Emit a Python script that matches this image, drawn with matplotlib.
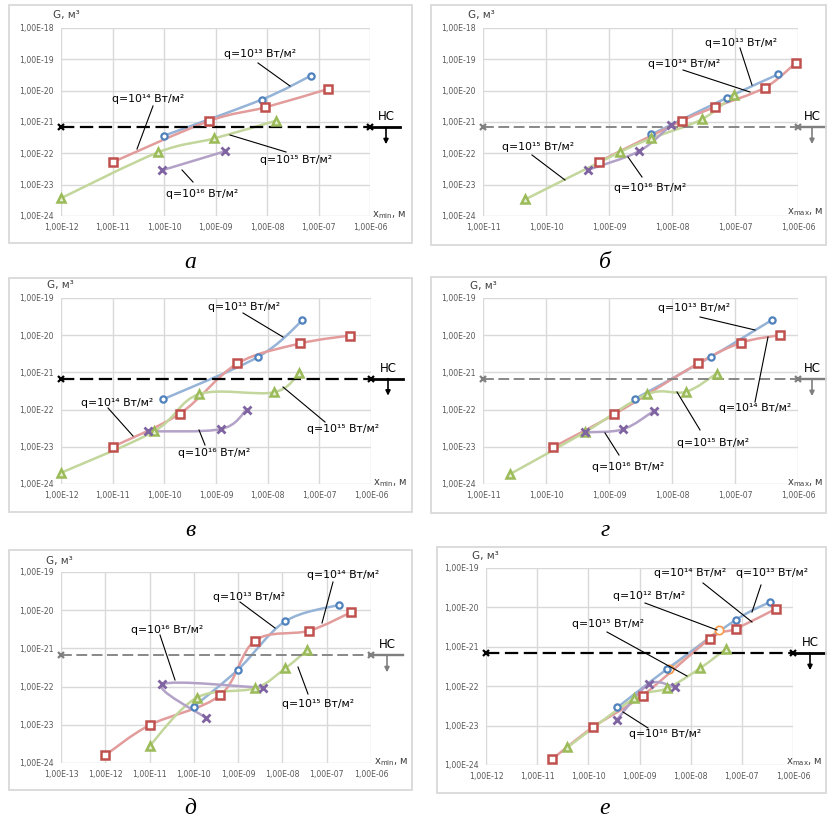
import numpy as np
import matplotlib
matplotlib.use("Agg")
import matplotlib.pyplot as plt
from matplotlib.path import Path
from matplotlib.patches import PathPatch, Rectangle
from matplotlib.lines import Line2D
from matplotlib import transforms
from matplotlib.ticker import FixedLocator, FuncFormatter

W, H = 827, 823

# ---- panel а (x_min) ----
a_x13 = [9.8e-11, 7.9e-9, 7.1e-8]
a_g13 = [3.6e-22, 5.2e-21, 3.0e-20]
a_x14 = [1.0e-11, 7.4e-10, 9.3e-9, 1.5e-7]
a_g14 = [5.2e-23, 1.07e-21, 2.95e-21, 1.12e-20]
a_x15 = [1.0e-12, 7.6e-11, 9.5e-10, 1.5e-8]
a_g15 = [3.7e-24, 1.07e-22, 3.0e-22, 1.1e-21]
a_x16 = [9.3e-11, 1.5e-9]
a_g16 = [2.9e-23, 1.15e-22]
a_hc = 6.8e-22

# ---- panel б (x_max) ----
b_x13 = [4.7e-9, 7.4e-8, 4.8e-7]
b_g13 = [4.0e-22, 5.9e-21, 3.3e-20]
b_x14 = [6.9e-10, 1.45e-8, 4.8e-8, 3.0e-7, 9.3e-7]
b_g14 = [5.4e-23, 1.1e-21, 3.0e-21, 1.26e-20, 7.8e-20]
b_x15 = [4.7e-11, 1.5e-9, 4.7e-9, 3.0e-8, 9.5e-8]
b_g15 = [3.4e-24, 1.1e-22, 3.0e-22, 1.23e-21, 7.4e-21]
b_x16 = [4.7e-10, 3.0e-9, 9.5e-9]
b_g16 = [3.0e-23, 1.17e-22, 7.8e-22]
b_hc = 6.9e-22

# ---- panel в (x_min) ----
v_x13 = [9.5e-11, 6.5e-9, 4.7e-8]
v_g13 = [1.9e-22, 2.6e-21, 2.5e-20]
v_x14 = [1.0e-11, 2.0e-10, 2.6e-9, 4.3e-8, 3.9e-7]
v_g14 = [1.0e-23, 7.8e-23, 1.74e-21, 6.0e-21, 9.8e-21]
v_x15 = [1.0e-12, 6.3e-11, 4.7e-10, 1.3e-8, 4.1e-8]
v_g15 = [2.0e-24, 2.6e-23, 2.6e-22, 2.9e-22, 9.5e-22]
v_x16 = [4.9e-11, 1.26e-9, 3.9e-9]
v_g16 = [2.6e-23, 3.0e-23, 1.0e-22]
v_hc = 6.8e-22

# ---- panel г (x_max) ----
g_x13 = [2.6e-9, 4.1e-8, 3.9e-7]
g_g13 = [1.95e-22, 2.6e-21, 2.6e-20]
g_x14 = [1.3e-10, 1.2e-9, 2.6e-8, 1.26e-7, 5.1e-7]
g_g14 = [9.8e-24, 7.4e-23, 1.74e-21, 6.3e-21, 1.0e-20]
g_x15 = [2.7e-11, 4.1e-10, 4.0e-9, 1.66e-8, 5.1e-8]
g_g15 = [1.86e-24, 2.45e-23, 2.6e-22, 3.0e-22, 9.3e-22]
g_x16 = [4.1e-10, 1.66e-9, 5.2e-9]
g_g16 = [2.45e-23, 2.95e-23, 9.3e-23]
g_hc = 6.6e-22

# ---- panel д (x_min) ----
d_x13 = [1.0e-10, 1.0e-9, 1.15e-8, 1.9e-7]
d_g13 = [3.0e-23, 2.8e-22, 5.1e-21, 1.38e-20]
d_x14 = [1.0e-12, 1.0e-11, 3.9e-10, 2.4e-9, 4.0e-8, 3.6e-7]
d_g14 = [1.6e-24, 9.8e-24, 5.9e-23, 1.6e-21, 2.9e-21, 8.9e-21]
d_x15 = [1.0e-11, 1.15e-10, 2.4e-9, 1.15e-8, 3.6e-8]
d_g15 = [2.8e-24, 5.1e-23, 9.1e-23, 3.0e-22, 8.9e-22]
d_x16 = [1.9e-10, 1.95e-11, 3.7e-9]
d_g16 = [1.5e-23, 1.15e-22, 9.3e-23]
d_hc = 6.6e-22

# ---- panel е (x_max) ----
e_x13 = [3.7e-10, 3.5e-9, 7.8e-8, 3.6e-7]
e_g13 = [2.9e-23, 2.75e-22, 4.9e-21, 1.38e-20]
e_x14 = [1.95e-11, 1.23e-10, 1.15e-9, 2.4e-8, 7.8e-8, 4.7e-7]
e_g14 = [1.4e-24, 9.1e-24, 5.8e-23, 1.6e-21, 2.9e-21, 9.3e-21]
e_x15 = [3.9e-11, 7.9e-10, 3.5e-9, 1.55e-8, 4.8e-8]
e_g15 = [2.8e-24, 4.9e-23, 8.9e-23, 2.9e-22, 8.7e-22]
e_x16 = [3.6e-10, 1.55e-9, 4.9e-9]
e_g16 = [1.4e-23, 1.15e-22, 9.3e-23]
e_x12 = [3.8e-9, 3.6e-8]
e_g12 = [2.75e-22, 2.7e-21]
e_hc = 6.9e-22

Q13 = "q=10¹³ Вт/м²"
Q14 = "q=10¹⁴ Вт/м²"
Q15 = "q=10¹⁵ Вт/м²"
Q16 = "q=10¹⁶ Вт/м²"
Q12 = "q=10¹² Вт/м²"

STYLE = {
    13: dict(line="#95B3D7", marker="o", mc="#4F81BD", ms=4.5, mew=1.6, mfc="white"),
    14: dict(line="#E39C9C", marker="s", mc="#C0504D", ms=6, mew=1.8, mfc="white"),
    15: dict(line="#C3D69B", marker="^", mc="#9BBB59", ms=6, mew=1.8, mfc="#E6EFD5"),
    16: dict(line="#B3A2C7", marker="x", mc="#8064A2", ms=5.5, mew=2.0, mfc="none"),
    12: dict(line="#FAC090", marker="o", mc="#F79646", ms=6, mew=1.2, mfc="white"),
}

PANELS = [
    dict(letter="а", plot=(61, 28, 370, 216), box=(9, 5, 412, 243), lpos=(190, 263),
         xr=(-12, -6), yr=(-24, -18), xsub="min", glab=(66, 15), xlab=(389, 215),
         series=[(13, a_x13, a_g13), (14, a_x14, a_g14), (15, a_x15, a_g15), (16, a_x16, a_g16)],
         hc=a_hc, hcc="black", arrow=386, hcend=400,
         notes=[(Q13, (260, 54), (258, 63), (290, 86)),
                (Q14, (148, 99), (153, 106), (137, 149)),
                (Q15, (296, 160), (230, 135), (286, 152)),
                (Q16, (202, 194), (182, 170), (193, 182))]),
    dict(letter="б", plot=(483, 28, 798, 216), box=(431, 5, 826, 245), lpos=(605, 263),
         xr=(-11, -6), yr=(-24, -18), xsub="max", glab=(481, 15), xlab=(805, 212),
         series=[(13, b_x13, b_g13), (14, b_x14, b_g14), (15, b_x15, b_g15), (16, b_x16, b_g16)],
         hc=b_hc, hcc="#7F7F7F", arrow=812, hcend=826,
         notes=[(Q13, (741, 43), (740, 48), (752, 85)),
                (Q14, (684, 64), (683, 70), (750, 92)),
                (Q15, (538, 147), (532, 155), (565, 180)),
                (Q16, (650, 188), (628, 157), (642, 177))]),
    dict(letter="в", plot=(61, 298, 371, 484), box=(9, 278, 412, 512), lpos=(190, 531),
         xr=(-12, -6), yr=(-24, -19), xsub="min", glab=(60, 285), xlab=(390, 483),
         series=[(13, v_x13, v_g13), (14, v_x14, v_g14), (15, v_x15, v_g15), (16, v_x16, v_g16)],
         hc=v_hc, hcc="black", arrow=388, hcend=403,
         notes=[(Q13, (244, 307), (243, 313), (283, 337)),
                (Q14, (117, 403), (108, 408), (133, 436)),
                (Q15, (343, 429), (283, 387), (325, 422)),
                (Q16, (214, 453), (199, 430), (205, 445))]),
    dict(letter="г", plot=(483, 298, 798, 484), box=(431, 277, 826, 513), lpos=(605, 531),
         xr=(-11, -6), yr=(-24, -19), xsub="max", glab=(483, 286), xlab=(805, 483),
         series=[(13, g_x13, g_g13), (14, g_x14, g_g14), (15, g_x15, g_g15), (16, g_x16, g_g16)],
         hc=g_hc, hcc="#7F7F7F", arrow=812, hcend=826,
         notes=[(Q13, (694, 308), (700, 317), (755, 330)),
                (Q14, (755, 408), (755, 402), (768, 337)),
                (Q15, (713, 443), (677, 392), (700, 430)),
                (Q16, (628, 467), (605, 433), (619, 455))]),
    dict(letter="д", plot=(61, 572, 371, 763), box=(9, 550, 412, 790), lpos=(190, 808),
         xr=(-13, -6), yr=(-24, -19), xsub="min", glab=(59, 561), xlab=(391, 762),
         series=[(13, d_x13, d_g13), (14, d_x14, d_g14), (15, d_x15, d_g15), (16, d_x16, d_g16)],
         hc=d_hc, hcc="#7F7F7F", arrow=387, hcend=403,
         notes=[(Q14, (343, 575), (333, 582), (322, 623)),
                (Q13, (249, 597), (240, 602), (275, 628)),
                (Q16, (167, 630), (160, 635), (175, 680)),
                (Q15, (318, 704), (298, 667), (308, 694))]),
    dict(letter="е", plot=(486, 568, 793, 765), box=(437, 547, 826, 793), lpos=(605, 808),
         xr=(-12, -6), yr=(-24, -19), xsub="max", glab=(485, 556), xlab=(804, 762),
         series=[(12, e_x12, e_g12), (13, e_x13, e_g13), (14, e_x14, e_g14), (15, e_x15, e_g15), (16, e_x16, e_g16)],
         hc=e_hc, hcc="black", arrow=810, hcend=825,
         notes=[(Q14, (690, 573), (703, 583), (752, 622)),
                (Q13, (772, 573), (761, 585), (752, 612)),
                (Q12, (649, 596), (645, 603), (717, 630)),
                (Q15, (608, 624), (607, 632), (687, 676)),
                (Q16, (665, 734), (623, 712), (648, 728))]),
]


def fx(x):
    return x / W


def fy(y):
    return 1 - y / H


def smooth_path(xs, ys):
    # Excel-like smoothed line: Catmull-Rom segments as cubic Beziers in log space
    p = np.column_stack([np.log10(xs), np.log10(ys)])
    n = len(p)
    verts, codes = [p[0]], [Path.MOVETO]
    for i in range(n - 1):
        p0 = p[i - 1] if i > 0 else p[i]
        p3 = p[i + 2] if i + 2 < n else p[i + 1]
        c1 = p[i] + (p[i + 1] - p0) / 6
        c2 = p[i + 1] - (p3 - p[i]) / 6
        verts += [c1, c2, p[i + 1]]
        codes += [Path.CURVE4] * 3
    return Path(10 ** np.array(verts), codes)


def sci(v, pos):
    e = int(round(np.log10(v)))
    return "1,00E-%02d" % abs(e)


fig = plt.figure(figsize=(W / 100, H / 100), dpi=100)
fig.patch.set_facecolor("white")
plt.rcParams["font.family"] = ["DejaVu Sans"]

for P in PANELS:
    bx0, by0, bx1, by1 = P["box"]
    fig.add_artist(Rectangle((fx(bx0), fy(by1)), (bx1 - bx0) / W, (by1 - by0) / H,
                             transform=fig.transFigure, fill=False, ec="#D9D9D9", lw=1.3))
    l, t, r, b = P["plot"]
    ax = fig.add_axes([fx(l), fy(b), (r - l) / W, (b - t) / H])
    ax.set_xscale("log")
    ax.set_yscale("log")
    ax.set_xlim(10.0 ** P["xr"][0], 10.0 ** P["xr"][1])
    ax.set_ylim(10.0 ** P["yr"][0], 10.0 ** P["yr"][1])
    ax.xaxis.set_major_locator(FixedLocator([10.0 ** k for k in range(P["xr"][0], P["xr"][1] + 1)]))
    ax.yaxis.set_major_locator(FixedLocator([10.0 ** k for k in range(P["yr"][0], P["yr"][1] + 1)]))
    ax.xaxis.set_minor_locator(FixedLocator([]))
    ax.yaxis.set_minor_locator(FixedLocator([]))
    ax.xaxis.set_major_formatter(FuncFormatter(sci))
    ax.yaxis.set_major_formatter(FuncFormatter(sci))
    ax.tick_params(length=0, labelsize=5.6, labelcolor="#595959", pad=5)
    for s in ax.spines.values():
        s.set_visible(False)
    ax.grid(True, color="#D9D9D9", lw=1.0)
    ax.set_axisbelow(True)
    ax.patch.set_alpha(0)

    for q, xs, gs in P["series"]:
        st = STYLE[q]
        ax.add_patch(PathPatch(smooth_path(xs, gs), fill=False, ec=st["line"], lw=1.8,
                               zorder=2, clip_on=False))
    for q, xs, gs in P["series"]:
        st = STYLE[q]
        if st["marker"] == "x":
            ax.plot(xs, gs, ls="none", marker="x", ms=st["ms"], mew=st["mew"], color=st["mc"],
                    zorder=4, clip_on=False)
        else:
            ax.plot(xs, gs, ls="none", marker=st["marker"], ms=st["ms"], mew=st["mew"],
                    mec=st["mc"], mfc=st["mfc"], zorder=4, clip_on=False)

    # НС line
    hc, c = P["hc"], P["hcc"]
    lw = 1.6 if c == "black" else 1.3
    ax.plot([10.0 ** P["xr"][0], 10.0 ** P["xr"][1]], [hc, hc], ls=(0, (6, 2.5)), color=c, lw=lw,
            marker="x", ms=5, mew=1.6, zorder=3, clip_on=False)
    blend = transforms.blended_transform_factory(ax.transAxes, ax.transData)
    ax.plot([1.0, (P["hcend"] - l) / (r - l)], [hc, hc], color=c, lw=lw + 0.4,
            transform=blend, clip_on=False, zorder=3)
    xa = (P["arrow"] - l) / (r - l)
    tip = transforms.offset_copy(blend, fig=fig, y=-17, units="dots")
    ax.annotate("", xy=(xa, hc), xycoords=tip, xytext=(xa, hc), textcoords=blend,
                arrowprops=dict(arrowstyle="-|>", color=c, lw=1.2, shrinkA=0, shrinkB=0,
                                mutation_scale=7), annotation_clip=False)
    up = transforms.offset_copy(blend, fig=fig, y=4, units="dots")
    ax.text(xa, hc, "НС", transform=up, ha="center", va="bottom", fontsize=8.5, color="black")

    # axis titles
    fig.text(fx(P["glab"][0]), fy(P["glab"][1]), "G, м³", ha="center", va="center",
             fontsize=7.5, color="#404040")
    fig.text(fx(P["xlab"][0]), fy(P["xlab"][1]), "x$_{\\mathregular{%s}}$, м" % P["xsub"],
             ha="center", va="center", fontsize=7.2, color="#404040")

    # curve labels with leader lines
    for txt, tc, p0, p1 in P["notes"]:
        fig.add_artist(Line2D([fx(p0[0]), fx(p1[0])], [fy(p0[1]), fy(p1[1])],
                              transform=fig.transFigure, color="black", lw=0.8))
        fig.text(fx(tc[0]), fy(tc[1]), txt, ha="center", va="center", fontsize=7.8,
                 color="black")

    fig.text(fx(P["lpos"][0]), fy(P["lpos"][1]), P["letter"], ha="center", va="center",
             fontsize=17, style="italic", family="Liberation Serif")

fig.savefig("out.png", dpi=100, facecolor="white")
